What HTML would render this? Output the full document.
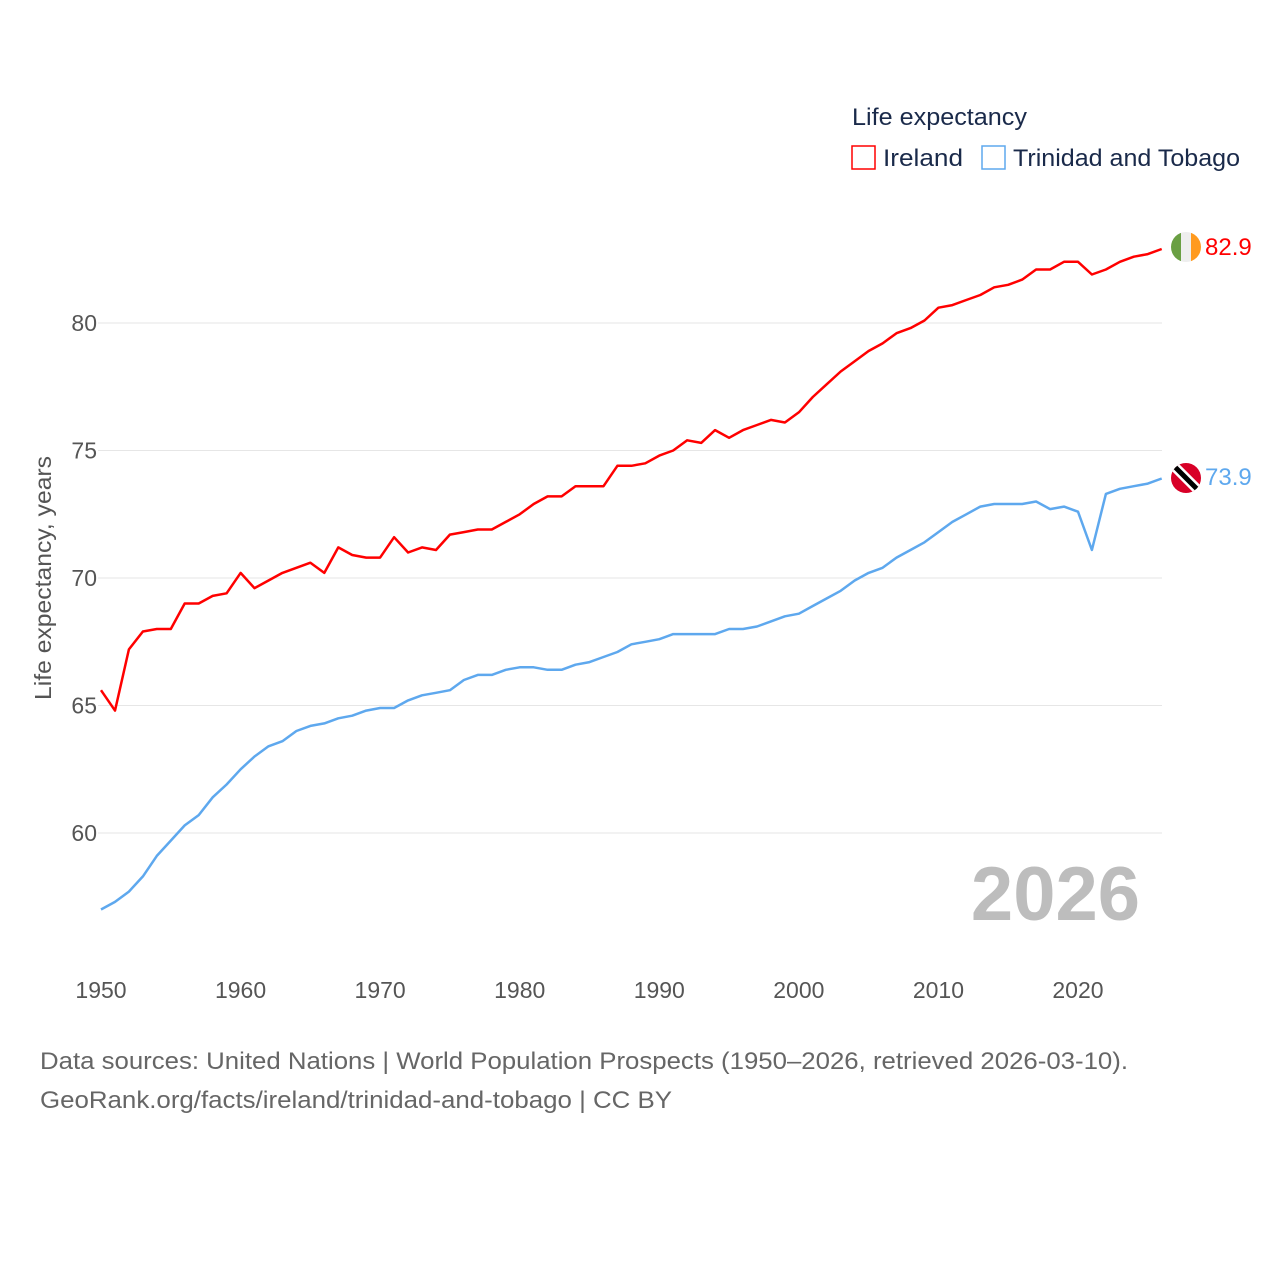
<!DOCTYPE html>
<html><head><meta charset="utf-8"><style>
body{margin:0;background:#fff;width:1280px;height:1280px;overflow:hidden;font-family:"Liberation Sans",sans-serif}
</style></head><body>
<svg id="chart" width="1280" height="1280" xmlns="http://www.w3.org/2000/svg" font-family="Liberation Sans, sans-serif">
<g id="grid"></g>
<g id="yt"></g>
<g id="xt"></g>
<text transform="translate(51,578) rotate(-90)" text-anchor="middle" font-size="23" fill="#555" textLength="244" lengthAdjust="spacingAndGlyphs">Life expectancy, years</text>
<text x="1140" y="920" text-anchor="end" font-size="76" font-weight="bold" fill="#bdbdbd">2026</text>
<g id="series"></g>
<g>
<text x="852" y="125" font-size="24" fill="#1a2a4a" textLength="175" lengthAdjust="spacingAndGlyphs">Life expectancy</text>
<rect x="852" y="146" width="23" height="23" fill="none" stroke="#ff0000" stroke-width="1.5"/>
<text x="883" y="166" font-size="24" fill="#1a2a4a" textLength="80" lengthAdjust="spacingAndGlyphs">Ireland</text>
<rect x="982" y="146" width="23" height="23" fill="none" stroke="#5ea8ee" stroke-width="1.5"/>
<text x="1013" y="166" font-size="24" fill="#1a2a4a" textLength="227" lengthAdjust="spacingAndGlyphs">Trinidad and Tobago</text>
</g>
<g>
<clipPath id="c1"><circle cx="1186" cy="247" r="15"/></clipPath>
<g clip-path="url(#c1)"><rect x="1171" y="232" width="10" height="30" fill="#6a9f43"/><rect x="1181" y="232" width="10" height="30" fill="#eee"/><rect x="1191" y="232" width="10" height="30" fill="#ff9a1f"/></g>
</g>
<g>
<clipPath id="c2"><circle cx="1186" cy="478" r="15"/></clipPath>
<g clip-path="url(#c2)"><rect x="1171" y="463" width="30" height="30" fill="#d80027"/><line x1="1171" y1="463" x2="1201" y2="493" stroke="#fff" stroke-width="10"/><line x1="1171" y1="463" x2="1201" y2="493" stroke="#000" stroke-width="5"/></g>
</g>
<text x="1205" y="255" font-size="24" fill="#ff0000">82.9</text>
<text x="1205" y="485" font-size="24" fill="#5ea8ee">73.9</text>
<text x="40" y="1069" font-size="24" fill="#666" textLength="1088" lengthAdjust="spacingAndGlyphs">Data sources: United Nations | World Population Prospects (1950–2026, retrieved 2026-03-10).</text>
<text x="40" y="1108" font-size="24" fill="#666" textLength="632" lengthAdjust="spacingAndGlyphs">GeoRank.org/facts/ireland/trinidad-and-tobago | CC BY</text>
</svg>
<script>
const years=[];for(let y=1950;y<=2026;y++)years.push(y);
const ireland=[65.6,64.8,67.2,67.9,68.0,68.0,69.0,69.0,69.3,69.4,70.2,69.6,69.9,70.2,70.4,70.6,70.2,71.2,70.9,70.8,70.8,71.6,71.0,71.2,71.1,71.7,71.8,71.9,71.9,72.2,72.5,72.9,73.2,73.2,73.6,73.6,73.6,74.4,74.4,74.5,74.8,75.0,75.4,75.3,75.8,75.5,75.8,76.0,76.2,76.1,76.5,77.1,77.6,78.1,78.5,78.9,79.2,79.6,79.8,80.1,80.6,80.7,80.9,81.1,81.4,81.5,81.7,82.1,82.1,82.4,82.4,81.9,82.1,82.4,82.6,82.7,82.9];
const trinidad=[57.0,57.3,57.7,58.3,59.1,59.7,60.3,60.7,61.4,61.9,62.5,63.0,63.4,63.6,64.0,64.2,64.3,64.5,64.6,64.8,64.9,64.9,65.2,65.4,65.5,65.6,66.0,66.2,66.2,66.4,66.5,66.5,66.4,66.4,66.6,66.7,66.9,67.1,67.4,67.5,67.6,67.8,67.8,67.8,67.8,68.0,68.0,68.1,68.3,68.5,68.6,68.9,69.2,69.5,69.9,70.2,70.4,70.8,71.1,71.4,71.8,72.2,72.5,72.8,72.9,72.9,72.9,73.0,72.7,72.8,72.6,71.1,73.3,73.5,73.6,73.7,73.9];
const yTicks=[60,65,70,75,80];
const xTicks=[1950,1960,1970,1980,1990,2000,2010,2020];
const X=y=>101+(y-1950)*13.957;
const Y=v=>323+(80-v)*25.5;
const NS="http://www.w3.org/2000/svg";
const grid=document.getElementById('grid'),yt=document.getElementById('yt'),xt=document.getElementById('xt'),ser=document.getElementById('series');
yTicks.forEach(t=>{
 const l=document.createElementNS(NS,'line');
 
 
 l.setAttribute('x1',98);l.setAttribute('x2',1162);l.setAttribute('y1',Y(t));l.setAttribute('y2',Y(t));
 l.setAttribute('stroke','#e6e6e6');l.setAttribute('stroke-width','1');grid.appendChild(l);
 const tx=document.createElementNS(NS,'text');
 
 
 tx.setAttribute('x',97);tx.setAttribute('y',Y(t)+8);tx.setAttribute('text-anchor','end');
 tx.setAttribute('font-size','23');tx.setAttribute('fill','#555');tx.textContent=t;yt.appendChild(tx);
});
xTicks.forEach(t=>{
 const tx=document.createElementNS(NS,'text');
 
 
 tx.setAttribute('x',X(t));tx.setAttribute('y',998);tx.setAttribute('text-anchor','middle');
 tx.setAttribute('font-size','23');tx.setAttribute('fill','#555');tx.textContent=t;xt.appendChild(tx);
});
function line(vals,color,name){
 const p=document.createElementNS(NS,'path');
 
 
 p.setAttribute('d',vals.map((v,i)=>(i?'L':'M')+X(years[i]).toFixed(1)+','+Y(v).toFixed(1)).join(''));
 p.setAttribute('fill','none');p.setAttribute('stroke',color);p.setAttribute('stroke-width','2.5');
 p.setAttribute('stroke-linejoin','round');ser.appendChild(p);
}
line(ireland,'#ff0000','ireland-line');
line(trinidad,'#5ea8ee','trinidad-line');
</script>
</body></html>
